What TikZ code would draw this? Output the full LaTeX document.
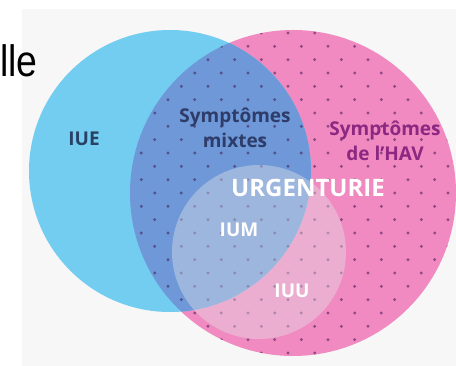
\documentclass[tikz,border=0pt]{standalone}
\usepackage{fontspec}
\setmainfont{Open Sans}
\newfontfamily\arialfont{Liberation Sans}
\definecolor{bgpanel}{RGB}{247,247,247}
\definecolor{bluec}{RGB}{115,205,240}
\definecolor{pinkc}{RGB}{240,138,192}
\definecolor{overlapc}{RGB}{110,152,215}
\definecolor{dotc}{RGB}{60,20,80}
\definecolor{navytext}{RGB}{40,65,100}
\definecolor{mixtext}{RGB}{45,60,105}
\definecolor{purpletext}{RGB}{140,40,130}
\definecolor{haze}{RGB}{228,228,234}
\begin{document}
\begin{tikzpicture}[x=1pt,y=-1pt,
  lbl/.style={inner sep=0pt, font=\bfseries\fontsize{19}{25}\selectfont, align=center},
  biglbl/.style={inner sep=0pt, font=\bfseries\fontsize{24}{28}\selectfont, text=white},
  dotmark/.style={fill=dotc, opacity=0.55}]
\useasboundingbox (0,0) rectangle (456,366);
\fill[white] (0,0) rectangle (456,366);
\fill[bgpanel] (22,9) rectangle (456,366);
\coordinate (pinkC) at (293,193);
\coordinate (blueC) at (170,171);
\coordinate (urgC) at (259,252);
\fill[pinkc] (pinkC) circle[radius=163pt];
\fill[bluec] (blueC) circle[radius=141pt];
\begin{scope}
  \clip (pinkC) circle[radius=163pt];
  \fill[overlapc] (blueC) circle[radius=141pt];
  \foreach \j in {0,...,24}{
    \pgfmathsetmacro{\off}{mod(\j,2)*13.333}
    \foreach \k in {-7,...,6}{
      \fill[dotmark] ({288+\off+26.667*\k},{33+13.333*\j}) circle[radius=1.6pt];
    }
  }
\end{scope}
\fill[haze, fill opacity=0.4] (urgC) circle[radius=87pt];
\node[inner sep=0pt, anchor=base west, font=\arialfont\fontsize{44}{44}\selectfont, xscale=0.85] (lle) at (0,77) {lle};
\node[lbl, text=navytext] (iue) at (84,139) {IUE};
\node[lbl, text=mixtext] (mix) at (235,128) {Symptômes\\mixtes};
\node[lbl, text=purpletext] (hav) at (385,141) {Symptômes\\de l'HAV};
\node[biglbl] (urg) at (308,188) {URGENTURIE};
\node[lbl, text=white] (ium) at (239,230) {IUM};
\node[lbl, text=white] (iuu) at (292,291) {IUU};
\end{tikzpicture}
\end{document}
